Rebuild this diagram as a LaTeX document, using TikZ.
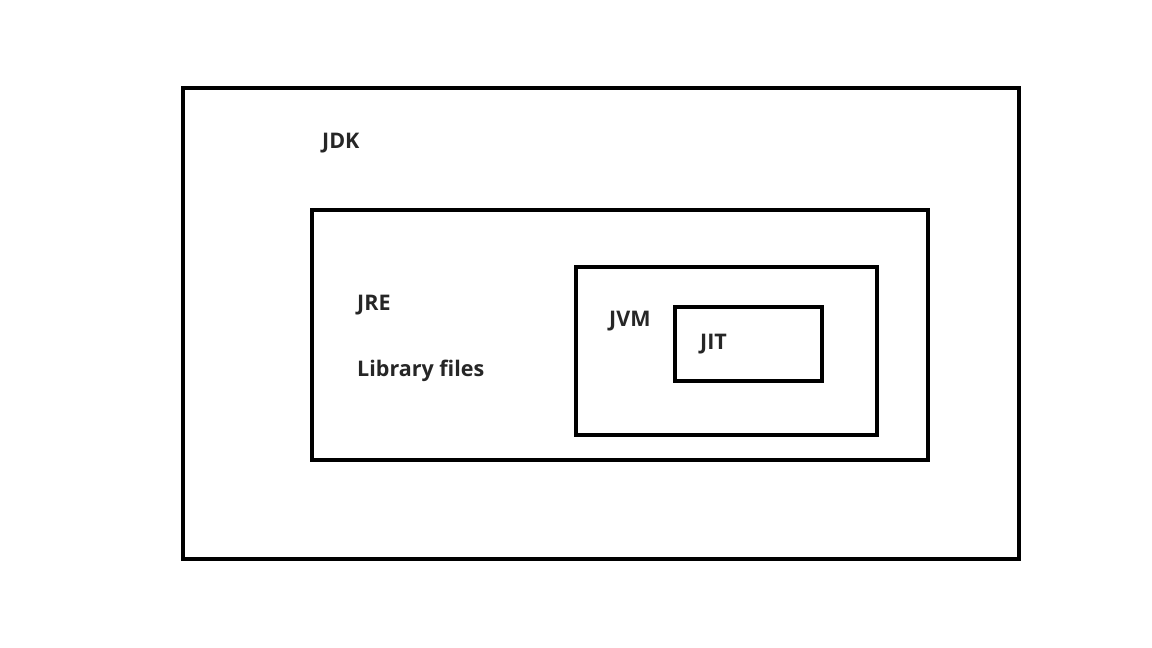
\documentclass[tikz,border=0pt]{standalone}
\usepackage{fontspec}
\setmainfont{Open Sans}
\definecolor{txt}{HTML}{262626}
\begin{document}
\begin{tikzpicture}[x=1pt,y=-1pt,
  frame/.style={draw=black,line width=4pt,fill=none},
  lbl/.style={anchor=base west,inner sep=0pt,text=txt,font=\bfseries\fontsize{21.5}{25}\selectfont}]
\useasboundingbox[fill=white] (0,0) rectangle (1152,648);
\draw[frame] (183,88) rectangle (1019,559);
\draw[frame] (312,210) rectangle (928,460);
\draw[frame] (576,267) rectangle (877,435);
\draw[frame] (675,307) rectangle (822,381);
\node[lbl] (jdk) at (322,148) {JDK};
\node[lbl] (jre) at (357,310) {JRE};
\node[lbl] (lib) at (357,376) {Library files};
\node[lbl] (jvm) at (609,326) {JVM};
\node[lbl] (jit) at (700,349) {JIT};
\end{tikzpicture}
\end{document}
